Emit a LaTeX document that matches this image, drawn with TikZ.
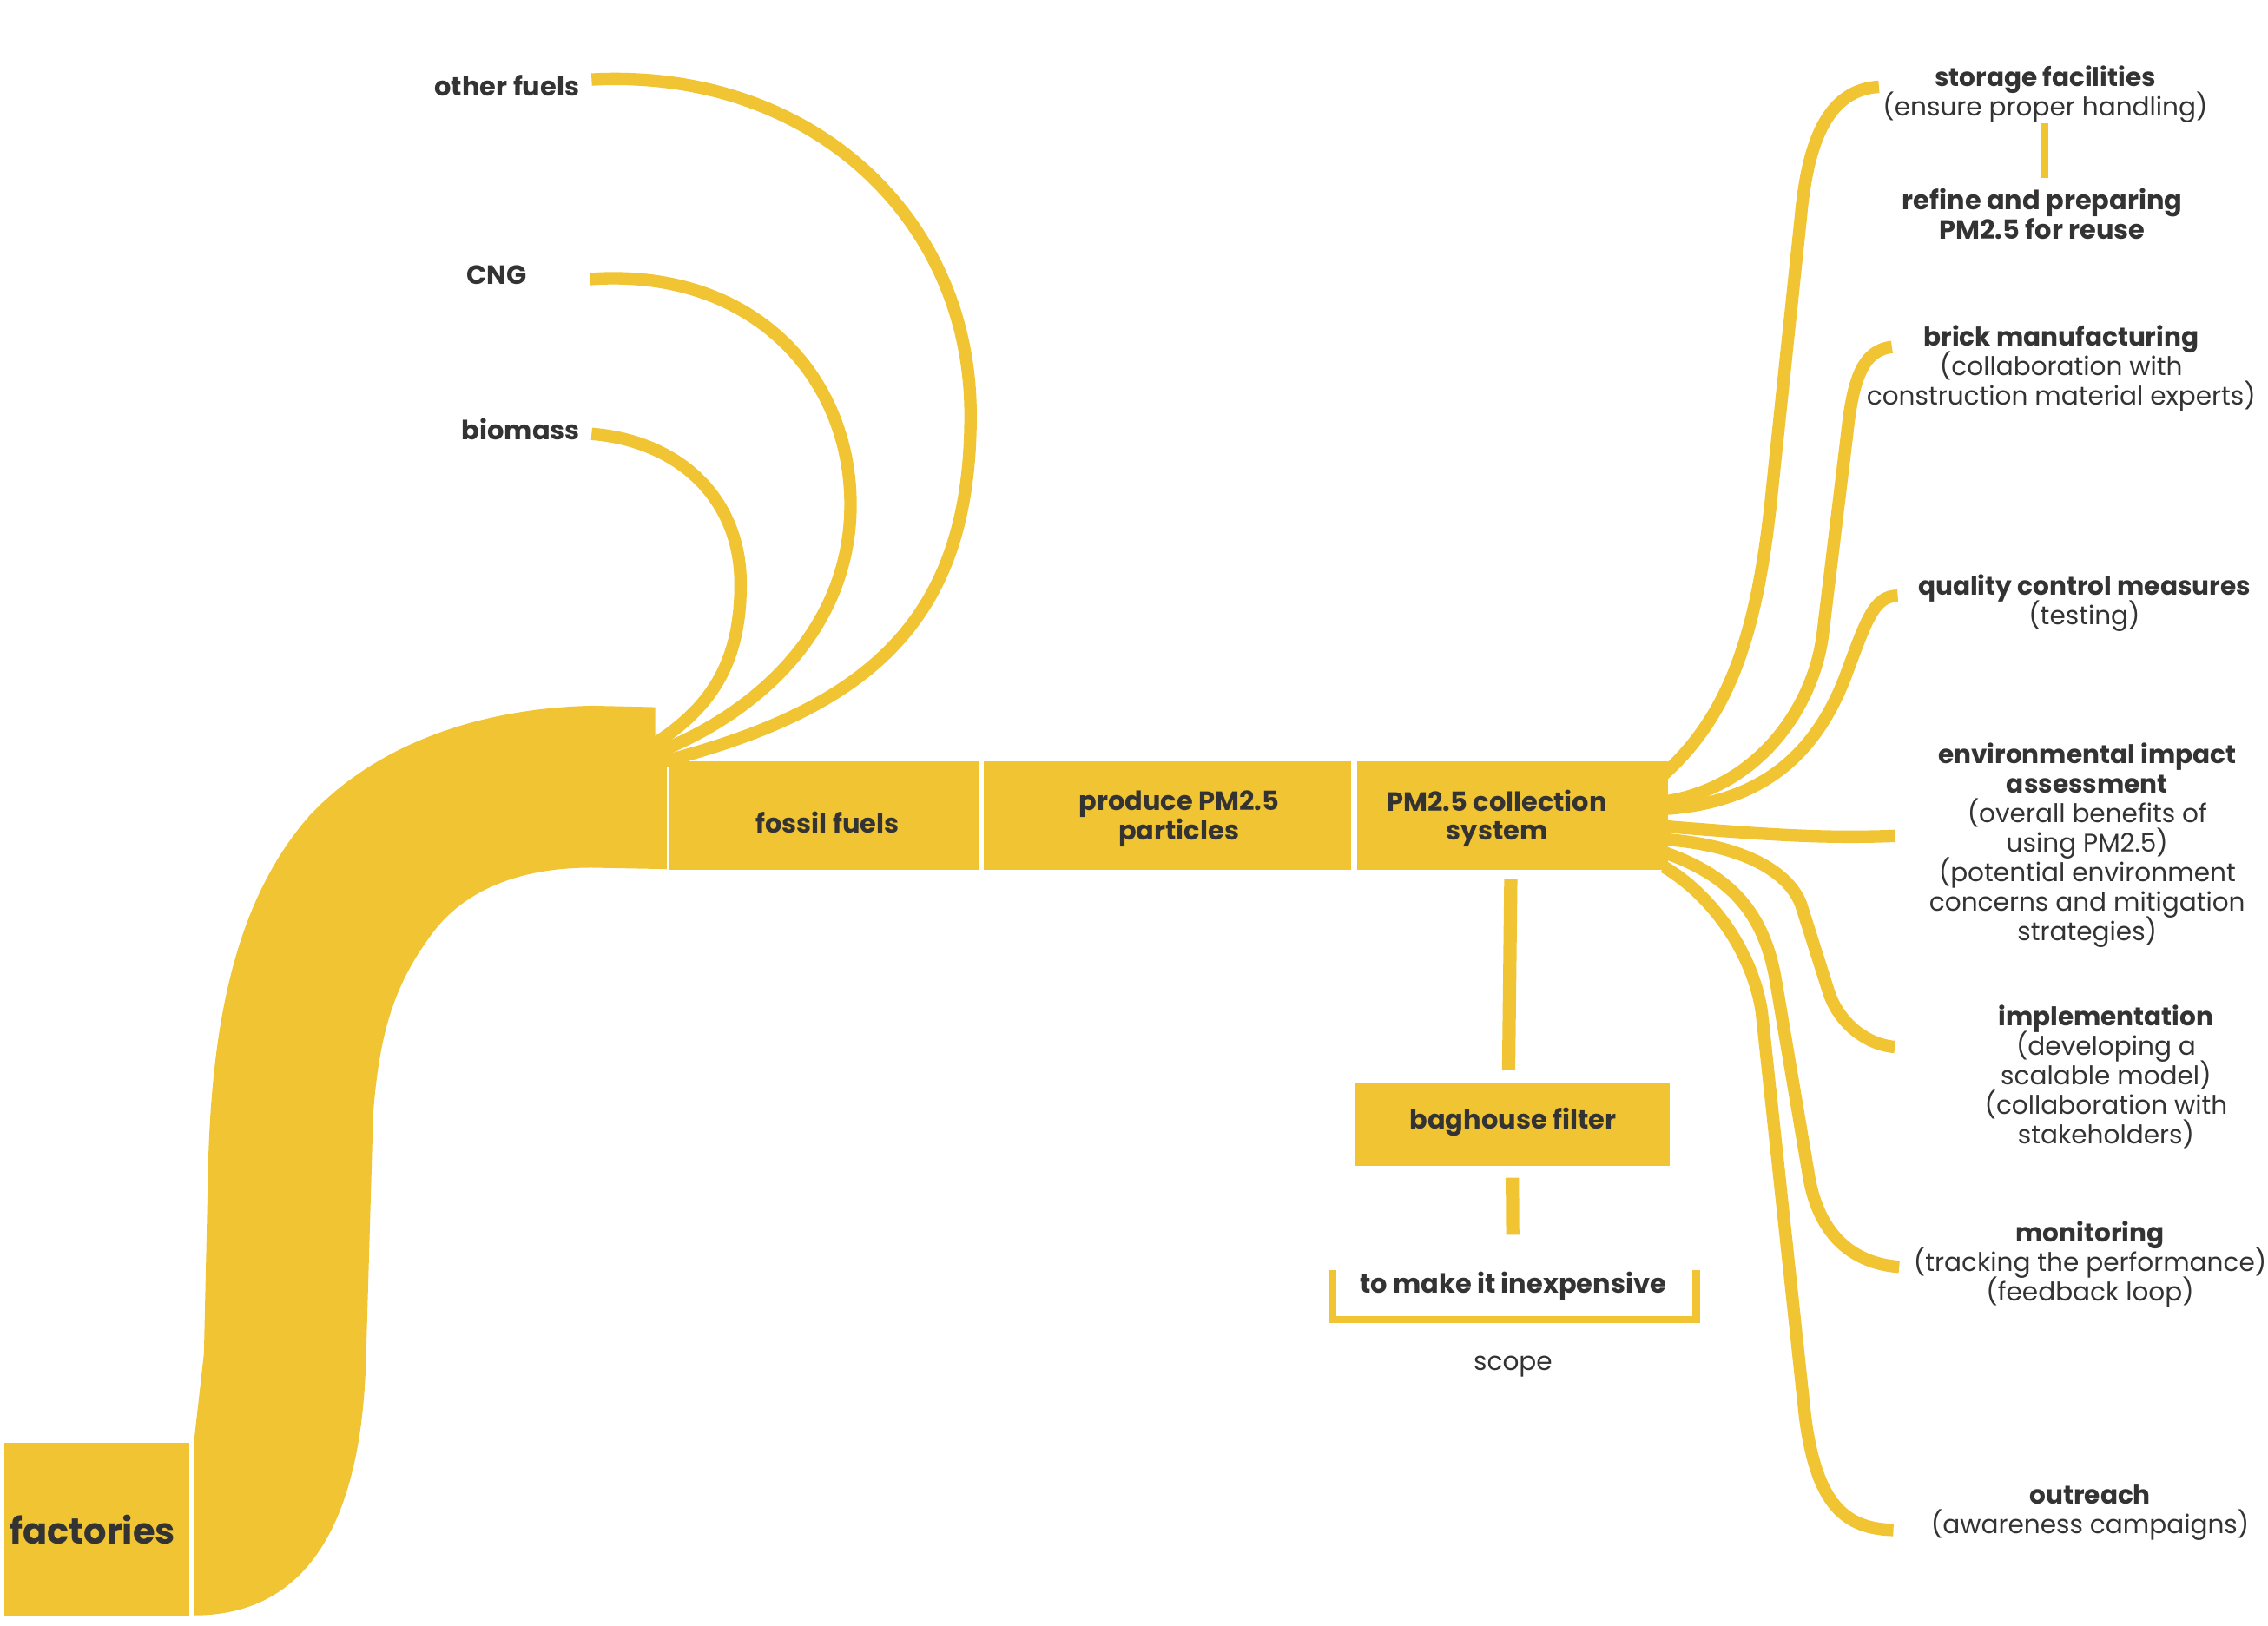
\documentclass[tikz,border=0pt]{standalone}
\usepackage{fontspec}
\setmainfont{Poppins}
\usetikzlibrary{positioning,calc}
\definecolor{mustard}{RGB}{240,196,50}
\definecolor{ink}{RGB}{51,51,51}
\newcommand{\tightlines}{\lineskiplimit=-20pt\relax}

\begin{document}
\begin{tikzpicture}[x=0.02cm,y=-0.02cm,
		box/.style={fill=mustard,inner sep=0pt},
		sized/.style 2 args={minimum width=#1*0.02cm,minimum height=#2*0.02cm},
		heading/.style={font={\bfseries\fontsize{10.4}{11.6}\selectfont\tightlines},text=ink,align=center,inner sep=0pt},
		note/.style={font={\fontsize{10.1}{11.6}\selectfont\tightlines},text=ink,align=center,inner sep=0pt},
		flow/.style={draw=mustard,line width=4.9pt},
		stem/.style={draw=mustard,line width=5.2pt},
		tie/.style={draw=mustard,line width=3pt}]

		\useasboundingbox (0,0) rectangle (1568,1124);

		% main chain
		\node[box,sized={128}{119}]				(fac)		at (67,1057.5)	{};
		\node[heading,font=\bfseries\fontsize{14.2}{16}\selectfont]	(factxt)	at (64,1058)	{factories};
		\node[box,sized={214}{74.5}]			(fossil)	at (570,564)	{};
		\node[heading]							(fossiltxt)	at (572,569)	{fossil fuels};
		\node[box,sized={254}{74.5}]			(produce)	at (807,564)	{};
		\node[heading]							(producetxt) at (815,566)	{produce PM2.5\\particles};
		\node[box,sized={215}{74.5}]			(coll)		at (1045.5,564)	{};
		\node[heading]							(colltxt)	at (1035,566)	{PM2.5 collection\\system};

		% ribbon from the factories up to the fossil fuels
		\fill[mustard] (134,998) -- (141,936) -- (144,803) .. controls (147,700) and (165,620) .. (214,564)
			.. controls (260,515) and (330,490) .. (409,488) -- (453,489) -- (453,512) -- (461,522) -- (461,601)
			-- (409,600) .. controls (360,600) and (320,615) .. (297,648) .. controls (270,685) and (262,720) .. (258,770)
			-- (253,941) .. controls (250,1040) and (220,1117) .. (134,1117) -- cycle;

		% fuels
		\node[heading]	(other)		at (350.5,59)	{other fuels};
		\node[heading]	(cng)		at (343.5,190)	{CNG};
		\node[heading]	(bio)		at (360,297)	{biomass};
		\coordinate (otherin)	at (409,55);
		\coordinate (cngin)		at (408,193);
		\coordinate (bioin)		at (409,300);
		\coordinate (otherout)	at (457,527);
		\coordinate (cngout)	at (455,520);
		\coordinate (bioout)	at (453,514);

		\draw[flow] (otherin) .. controls (560,47) and (671,150) .. (671,287) .. controls (671,430) and (600,490) .. (otherout);
		\draw[flow] (cngin) .. controls (520,185) and (588,260) .. (588,349) .. controls (588,430) and (530,490) .. (cngout);
		\draw[flow] (bioin) .. controls (470,305) and (512,345) .. (512,404) .. controls (512,460) and (490,490) .. (bioout);

		% uses of the collected PM2.5
		\node[note]	(stor)	at (1414,65.5)	{\textbf{storage facilities}\\(ensure proper handling)};
		\node[heading]	(ref)	at (1412,148)	{refine and preparing\\PM2.5 for reuse};
		\node[note]	(brick)	at (1425,255)	{\textbf{brick manufacturing}\\(collaboration with\\construction material experts)};
		\node[note]	(qual)	at (1441,417)	{\textbf{quality control measures}\\(testing)};
		\node[note]	(env)	at (1443,584.5)	{\textbf{environmental impact}\\\textbf{assessment}\\(overall benefits of\\using PM2.5)\\(potential environment\\concerns and mitigation\\strategies)};
		\node[note]	(impl)	at (1456,744.5)	{\textbf{implementation}\\(developing a\\scalable model)\\(collaboration with\\stakeholders)};
		\node[note]	(mon)	at (1445,874.5)	{\textbf{monitoring}\\(tracking the performance)\\(feedback loop)};
		\node[note]	(out)	at (1445,1046)	{\textbf{outreach}\\(awareness campaigns)};

		\coordinate (storin)	at (1299,60);
		\coordinate (brickin)	at (1308,240);
		\coordinate (qualin)	at (1312,412);
		\coordinate (envin)		at (1310,578);
		\coordinate (implin)	at (1310,724);
		\coordinate (monin)		at (1313,876);
		\coordinate (outin)		at (1309,1058);
		\coordinate (tietop)	at (1413.5,85);
		\coordinate (tiebot)	at (1413.5,123);

		\draw[flow] ($(coll.north east)+(-3,9)$) .. controls (1195,495) and (1215,440) .. (1225,340) -- (1245,150) .. controls (1250,95) and (1265,62) .. (storin);
		\draw[flow] ($(coll.north east)+(-3,28)$) .. controls (1215,545) and (1253,490) .. (1260,440) -- (1277,300) .. controls (1281,262) and (1288,242) .. (brickin);
		\draw[flow] ($(coll.north east)+(-3,33)$) .. controls (1220,555) and (1255,520) .. (1275,470) .. controls (1290,430) and (1295,412) .. (qualin);
		\draw[flow] ($(coll.north east)+(-3,45)$) .. controls (1220,577) and (1260,580) .. (envin);
		\draw[flow] ($(coll.north east)+(-3,54)$) .. controls (1200,584) and (1235,600) .. (1245,625) -- (1264,685) .. controls (1270,705) and (1288,722) .. (implin);
		\draw[flow] ($(coll.north east)+(-3,63)$) .. controls (1195,605) and (1220,630) .. (1228,680) -- (1250,810) .. controls (1257,858) and (1285,874) .. (monin);
		\draw[flow] ($(coll.north east)+(-3,73)$) .. controls (1185,620) and (1212,660) .. (1218,700) -- (1248,980) .. controls (1256,1040) and (1275,1057) .. (outin);
		\draw[tie] (tietop) -- (tiebot);

		% filter and scope
		\node[box,sized={218}{57}]	(bag)		at (1045.5,777.5)	{};
		\node[heading]				(bagtxt)	at (1046,776)		{baghouse filter};
		\node[heading]				(cheap)		at (1046,889)		{to make it inexpensive};
		\node[note]					(scope)		at (1046,945)		{scope};

		\draw[stem] ($(coll.south)+(-1,6)$) -- ($(bag.north)+(-2.5,-9)$);
		\draw[stem,shorten <=0.16cm,shorten >=0.5cm] (bag.south) -- (cheap.north);
		\draw[tie,line width=2.9pt] (921.5,878) |- (1172.7,912.5) -- (1172.7,878);
	\end{tikzpicture}
\end{document}
